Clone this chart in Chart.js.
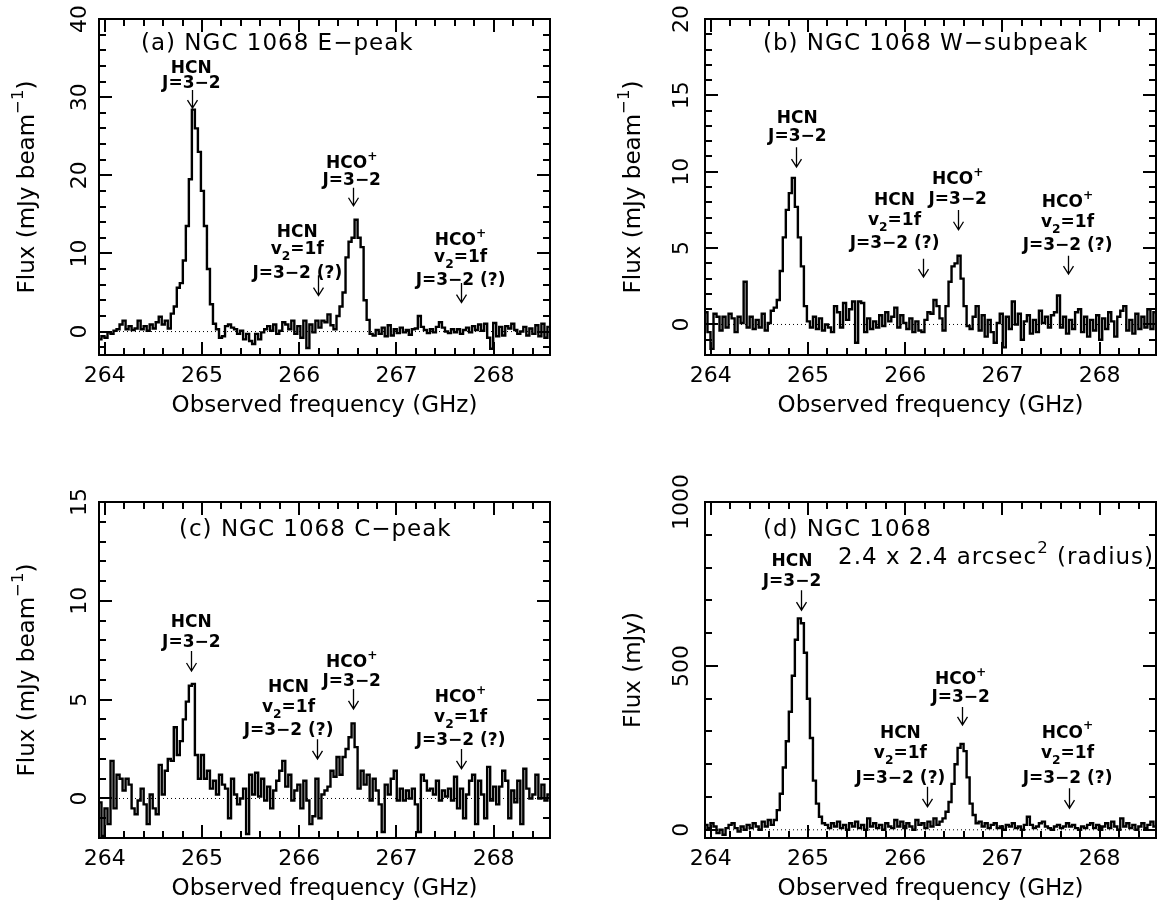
<!DOCTYPE html>
<html>
<head>
<meta charset="utf-8">
<script src="https://cdn.jsdelivr.net/npm/chart.js@4.4.1/dist/chart.umd.min.js"></script>
<style>
  body { margin: 0; background: #fff; }
  #fig { position: relative; width: 1158px; height: 909px; }
  #fig canvas { position: absolute; }
</style>
</head>
<body>
<div id="fig">
  <canvas id="pa" width="579" height="454" style="left:0;top:0"></canvas>
  <canvas id="pb" width="579" height="454" style="left:579px;top:0"></canvas>
  <canvas id="pc" width="579" height="454" style="left:0;top:455px"></canvas>
  <canvas id="pd" width="579" height="454" style="left:579px;top:455px"></canvas>
</div>
<script>
// spectral channels: first channel centre and channel width (GHz)
const FREQ_START = 263.95;
const CHAN_WIDTH = 0.031;
const X_MIN = 263.94, X_MAX = 268.58;
const X_TICKS = [264, 265, 266, 267, 268];

// (a) E-peak, mJy/beam
const FLUX_A = [
  -1.0, -0.6, -0.8, -0.1, -0.3, 0.1, 0.3, 0.9, 1.4, 0.3,
  0.7, 0.2, 0.4, 1.4, 0.3, 0.7, 0.1, 0.9, 0.4, 1.2,
  1.9, 0.9, 1.4, 0.4, 2.3, 3.2, 5.6, 6.2, 9.1, 13.5,
  19.5, 28.4, 26.0, 23.0, 18.0, 13.5, 8.0, 3.5, 1.0, 0.3,
  -0.8, -0.6, 0.7, 0.9, 0.5, 0.3, -0.3, 0.1, -1.0, -0.3,
  -1.2, -1.6, -0.3, -1.0, -0.1, 0.3, 0.7, 0.1, 0.9, -0.3,
  0.1, 1.2, 0.9, 0.3, 1.4, -0.3, 0.7, -0.8, 1.4, -2.1,
  0.9, -0.1, 1.4, 0.5, 1.4, 1.2, 2.2, 0.8, 0.3, 2.0,
  3.2, 5.0, 9.5, 11.5, 12.0, 14.3, 12.0, 10.8, 4.0, 1.5,
  -0.3, -0.5, 0.2, -0.3, 0.5, -0.6, 0.8, -0.5, 0.3, -0.2,
  0.5, -0.1, 0.2, -0.4, 0.3, 0.4, 2.0, 0.6, 0.2, -0.2,
  0.3, -0.1, 0.6, 1.2, 0.5, 0.0, -0.2, 0.3, -0.1, 0.3,
  -0.3, 0.2, 0.5, -0.1, 0.7, 0.2, 0.9, 0.1, 1.0, -0.8,
  -2.2, 1.1, -0.6, 0.6, -0.5, 0.7, 0.4, 1.0, 0.2, -0.3,
  0.0, 0.6, -0.5, 0.4, -0.3, 0.8, -0.6, 1.0, -0.8, 0.6
];

// (b) W-subpeak, mJy/beam
const FLUX_B = [
  0.8, -0.5, -1.6, 0.7, 0.5, -0.4, 0.5, -0.2, 0.7, 0.4,
  -0.5, 0.5, 0.1, 2.8, -0.2, 0.5, -0.3, 0.3, -0.2, 0.7,
  -0.4, 0.1, 0.9, 1.1, 1.6, 3.5, 5.7, 7.5, 8.6, 9.6,
  7.7, 5.7, 3.8, 1.2, 0.2, -0.2, 0.5, -0.3, 0.4, -0.4,
  0.0, -0.2, -0.5, 1.2, 0.8, -0.2, 1.4, 0.3, 1.0, 1.5,
  -1.2, 1.5, 1.4, -0.5, 0.4, -0.3, 0.2, -0.2, 0.6, -0.1,
  0.8, 0.2, 0.5, 1.1, -0.2, 0.6, 0.1, -0.3, 0.4, -0.5,
  0.2, -0.4, -0.5, 0.3, 0.8, 0.7, 1.6, 1.2, 0.4, -0.4,
  1.2, 2.8, 3.8, 4.0, 4.5, 3.0, 1.2, -0.1, -0.3, 0.5,
  1.2, -0.4, 0.6, -0.8, 0.3, -0.5, -1.2, 0.1, 0.7, -1.5,
  0.5, -0.3, 1.5, 0.0, 0.7, -1.0, 0.2, 0.6, -0.6, 0.3,
  -0.5, 0.9, 0.1, 0.5, -0.2, 0.6, 0.8, 1.9, -0.2, 0.5,
  -0.6, 0.3, -0.3, 0.8, 1.0, -0.5, 0.5, -0.8, 0.3, -0.4,
  0.6, -1.0, 0.4, -0.3, 0.8, 0.2, -0.8, 0.5, 0.9, 1.2,
  -0.4, 0.3, -0.6, 0.7, -0.3, 0.5, -0.2, 1.0, -0.3, 0.8
];

// (c) C-peak, mJy/beam
const FLUX_C = [
  -0.2, -1.9, -0.5, -1.3, 1.9, -0.5, 1.2, 1.0, 0.4, 1.0,
  0.7, -0.5, -0.8, -0.1, 0.5, -0.3, -1.3, 0.2, -0.5, -0.8,
  1.7, 0.2, 1.4, 2.0, 1.9, 3.6, 2.2, 2.9, 4.0, 4.9,
  5.7, 5.8, 2.2, 1.0, 2.2, 1.0, 1.4, 0.5, 0.9, 0.2,
  1.2, 0.7, 0.5, -1.0, 1.0, 0.2, -0.3, 0.0, 0.5, -1.8,
  1.2, 0.2, 1.3, 0.1, 1.0, -0.1, 0.6, -0.5, 0.4, 0.9,
  1.4, 1.9, 0.6, 1.2, -0.1, 0.4, 0.7, -0.5, 0.9, -0.1,
  -1.3, -0.9, 1.0, -1.0, 0.2, 0.4, 0.6, 1.4, 1.1, 2.1,
  1.2, 2.1, 2.5, 3.1, 3.8, 2.6, 0.5, 1.4, 0.7, 1.2,
  -0.1, 1.0, 0.4, -0.3, -1.7, 0.7, 0.2, 1.0, 1.4, -0.1,
  0.5, -0.1, 0.4, 0.0, 0.5, -0.3, -1.7, 1.2, 0.9, 0.4,
  0.5, 0.2, 0.9, -0.1, 0.4, 0.1, 0.5, -0.1, 1.1, -0.5,
  0.5, -1.0, 0.2, 0.9, 1.2, -1.3, 0.9, 0.2, -1.0, 1.6,
  -0.1, 0.6, -0.3, 0.6, 1.4, 0.9, -1.0, 0.4, -0.2, 0.9,
  -1.3, 1.5, 0.5, 0.0, 0.2, 1.2, 0.0, 0.7, -0.1, 0.2
];

// (d) 2.4" aperture, mJy
const FLUX_D = [
  15, 5, 20, 10, -10, 0, -15, 5, 15, 20,
  5, -5, 10, 0, 15, 5, 20, 10, 0, 25,
  10, 30, 15, 30, 60, 110, 190, 270, 360, 470,
  580, 645, 630, 540, 400, 280, 150, 80, 40, 20,
  15, 5, 20, 10, 25, 5, 15, 0, 20, 10,
  25, 5, 15, 0, 35, 10, 20, 5, 15, 0,
  20, 10, 5, 30, 10, 25, 5, 20, 10, 0,
  30, 15, 20, 5, 25, 10, 35, 15, 25, 35,
  55, 85, 140, 200, 250, 262, 240, 160, 80, 45,
  20, 25, 10, 20, 5, 15, 20, 5, 10, 0,
  15, 10, 20, 5, 10, 0, 15, 40, 15, 5,
  10, 20, 25, 10, 5, 0, 10, 15, 5, 10,
  20, 10, 15, 5, 0, 10, 5, 15, 20, 5,
  15, 0, 10, 20, 5, 25, 10, 0, 35, 10,
  20, 5, 15, 0, 10, 20, 5, 15, 25, 10
];

const Y_TICKS_A = [0, 10, 20, 30, 40];
const Y_TICKS_B = [0, 5, 10, 15, 20];
const Y_TICKS_C = [0, 5, 10, 15];
const Y_TICKS_D = [0, 500, 1000];

// line identifications: text centre (x, first line y), line gaps in px, arrow [x, from, to]
const LINES_A = [
  { text: ['HCN', 'J=3−2'], x: 264.89, y: 33.7, gaps: [15], arrow: [264.90, 30.9, 28.6] },
  { text: ['HCO^{+}', 'J=3−2'], x: 266.54, y: 21.5, gaps: [17], arrow: [266.55, 18.4, 16.1] },
  { text: ['HCN', 'v_{2}=1f', 'J=3−2 (?)'], x: 265.98, y: 12.7, gaps: [17, 24], arrow: [266.19, 7.2, 4.6] },
  { text: ['HCO^{+}', 'v_{2}=1f', 'J=3−2 (?)'], x: 267.66, y: 11.6, gaps: [17, 23], arrow: [267.66, 6.2, 3.7] }
];
const LINES_B = [
  { text: ['HCN', 'J=3−2'], x: 264.89, y: 13.5, gaps: [18], arrow: [264.88, 11.6, 10.3] },
  { text: ['HCO^{+}', 'J=3−2'], x: 266.54, y: 9.46, gaps: [20], arrow: [266.54, 7.5, 6.2] },
  { text: ['HCN', 'v_{2}=1f', 'J=3−2 (?)'], x: 265.89, y: 8.1, gaps: [20, 23], arrow: [266.18, 4.3, 3.1] },
  { text: ['HCO^{+}', 'v_{2}=1f', 'J=3−2 (?)'], x: 267.67, y: 7.96, gaps: [20, 23], arrow: [267.67, 4.5, 3.3] }
];
const LINES_C = [
  { text: ['HCN', 'J=3−2'], x: 264.89, y: 8.9, gaps: [20], arrow: [264.89, 7.46, 6.45] },
  { text: ['HCO^{+}', 'J=3−2'], x: 266.54, y: 6.87, gaps: [19], arrow: [266.55, 5.54, 4.53] },
  { text: ['HCN', 'v_{2}=1f', 'J=3−2 (?)'], x: 265.89, y: 5.6, gaps: [20, 23], arrow: [266.18, 3.0, 2.0] },
  { text: ['HCO^{+}', 'v_{2}=1f', 'J=3−2 (?)'], x: 267.66, y: 5.1, gaps: [20, 23], arrow: [267.66, 2.5, 1.5] }
];
const LINES_D = [
  { text: ['HCN', 'J=3−2'], x: 264.835, y: 818, gaps: [20], arrow: [264.93, 731, 670] },
  { text: ['HCO^{+}', 'J=3−2'], x: 266.57, y: 457, gaps: [18], arrow: [266.58, 375, 320] },
  { text: ['HCN', 'v_{2}=1f', 'J=3−2 (?)'], x: 265.95, y: 294, gaps: [20, 25], arrow: [266.22, 131, 70] },
  { text: ['HCO^{+}', 'v_{2}=1f', 'J=3−2 (?)'], x: 267.67, y: 294, gaps: [20, 25], arrow: [267.69, 127, 66] }
];

const FONT = '"DejaVu Sans", sans-serif';
const X_MINOR = 0.2, X_MAJOR = 1;

// text with _{sub} and ^{sup} pieces, centred vertically on y
function drawRich(ctx, str, x, y, size, opt = {}) {
  const weight = opt.weight || 'normal';
  const align = opt.align || 'center';
  const parts = [];
  const re = /([_^])\{([^}]*)\}/g;
  let last = 0, m;
  while ((m = re.exec(str))) {
    if (m.index > last) parts.push({ t: str.slice(last, m.index), s: 1, dy: 0 });
    parts.push({ t: m[2], s: 0.72, dy: m[1] === '^' ? -0.42 : 0.42 });
    last = re.lastIndex;
  }
  if (last < str.length) parts.push({ t: str.slice(last), s: 1, dy: 0 });
  ctx.letterSpacing = (opt.spacing || 0) + 'px';
  let w = 0;
  for (const p of parts) {
    ctx.font = `${weight} ${size * p.s}px ${FONT}`;
    p.w = ctx.measureText(p.t).width;
    w += p.w;
  }
  let px = align === 'center' ? x - w / 2 : x;
  ctx.textAlign = 'left';
  ctx.textBaseline = 'middle';
  for (const p of parts) {
    ctx.font = `${weight} ${size * p.s}px ${FONT}`;
    ctx.fillText(p.t, px, y + p.dy * size);
    px += p.w;
  }
  ctx.letterSpacing = '0px';
}

function isMajor(v, step) {
  return Math.abs(v / step - Math.round(v / step)) < 1e-6;
}

// frame with inward ticks, labels, titles and line markers
const specAxes = {
  id: 'specAxes',
  afterDraw(chart, args, o) {
    const { ctx, chartArea: a, scales: { x, y } } = chart;
    ctx.save();
    ctx.strokeStyle = '#000';
    ctx.fillStyle = '#000';
    ctx.lineWidth = 2;
    ctx.beginPath();
    for (let k = Math.ceil(x.min / X_MINOR); k * X_MINOR <= x.max; k++) {
      const v = k * X_MINOR;
      const len = isMajor(v, X_MAJOR) ? 13 : 7;
      const px = Math.round(x.getPixelForValue(v));
      ctx.moveTo(px, a.bottom); ctx.lineTo(px, a.bottom - len);
      ctx.moveTo(px, a.top); ctx.lineTo(px, a.top + len);
    }
    for (let k = Math.ceil(y.min / o.yMinor); k * o.yMinor <= y.max; k++) {
      const v = k * o.yMinor;
      const len = isMajor(v, o.yMajor) ? 13 : 7;
      const py = Math.round(y.getPixelForValue(v));
      ctx.moveTo(a.left, py); ctx.lineTo(a.left + len, py);
      ctx.moveTo(a.right, py); ctx.lineTo(a.right - len, py);
    }
    ctx.stroke();
    ctx.strokeRect(a.left, a.top, a.right - a.left, a.bottom - a.top);

    X_TICKS.forEach(v => drawRich(ctx, String(v), x.getPixelForValue(v), a.bottom + 21, 22));
    o.yTicks.forEach(v => {
      ctx.save();
      ctx.translate(a.left + o.yLabelDx, y.getPixelForValue(v));
      ctx.rotate(-Math.PI / 2);
      drawRich(ctx, String(v), 0, 0, 22);
      ctx.restore();
    });
    drawRich(ctx, 'Observed frequency (GHz)', (a.left + a.right) / 2, a.bottom + 51, 23);
    ctx.save();
    ctx.translate(a.left - 71, (a.top + a.bottom) / 2);
    ctx.rotate(-Math.PI / 2);
    drawRich(ctx, o.yTitle, 0, 0, 23);
    ctx.restore();

    o.titles.forEach(t => drawRich(ctx, t.text, a.left + t.dx, a.top + t.dy, 23, { align: 'left', spacing: 1 }));

    o.lines.forEach(L => {
      const cx = x.getPixelForValue(L.x);
      let ty = y.getPixelForValue(L.y);
      L.text.forEach((s, i) => {
        if (i > 0) ty += L.gaps[i - 1];
        drawRich(ctx, s, cx, ty, 17, { weight: 'bold' });
      });
      const ax = Math.round(x.getPixelForValue(L.arrow[0])) + 0.5;
      const y1 = y.getPixelForValue(L.arrow[1]);
      const y2 = y.getPixelForValue(L.arrow[2]);
      ctx.lineWidth = 1.3;
      ctx.beginPath();
      ctx.moveTo(ax, y1); ctx.lineTo(ax, y2);
      ctx.moveTo(ax - 5, y2 - 8); ctx.lineTo(ax, y2); ctx.lineTo(ax + 5, y2 - 8);
      ctx.stroke();
    });
    ctx.restore();
  }
};

const FREQ = FLUX_A.map((_, i) => +(FREQ_START + i * CHAN_WIDTH).toFixed(4));

const PANELS = [
  { id: 'pa', flux: FLUX_A, yMin: -3, yMax: 40, yTicks: Y_TICKS_A, yMinor: 2, yMajor: 10,
    yTitle: 'Flux (mJy beam^{−1})', lines: LINES_A, yLabelDx: -19,
    titles: [{ text: '(a) NGC 1068 E−peak', dx: 42, dy: 25 }],
    pad: { left: 99, top: 19, right: 29, bottom: 99 } },
  { id: 'pb', flux: FLUX_B, yMin: -2, yMax: 20, yTicks: Y_TICKS_B, yMinor: 1, yMajor: 5,
    yTitle: 'Flux (mJy beam^{−1})', lines: LINES_B, yLabelDx: -23,
    titles: [{ text: '(b) NGC 1068 W−subpeak', dx: 58, dy: 25 }],
    pad: { left: 126, top: 19, right: 2, bottom: 99 } },
  { id: 'pc', flux: FLUX_C, yMin: -2, yMax: 15, yTicks: Y_TICKS_C, yMinor: 1, yMajor: 5,
    yTitle: 'Flux (mJy beam^{−1})', lines: LINES_C, yLabelDx: -19,
    titles: [{ text: '(c) NGC 1068 C−peak', dx: 80, dy: 28 }],
    pad: { left: 99, top: 47, right: 29, bottom: 71 } },
  { id: 'pd', flux: FLUX_D, yMin: -25, yMax: 1000, yTicks: Y_TICKS_D, yMinor: 100, yMajor: 500,
    yTitle: 'Flux (mJy)', lines: LINES_D, yLabelDx: -23,
    titles: [{ text: '(d) NGC 1068', dx: 58, dy: 28 },
             { text: '2.4 x 2.4 arcsec^{2} (radius)', dx: 133, dy: 56 }],
    pad: { left: 126, top: 47, right: 2, bottom: 71 } }
];

PANELS.forEach(p => {
  new Chart(document.getElementById(p.id), {
    type: 'line',
    data: {
      datasets: [
        {
          data: FREQ.map((f, i) => ({ x: f, y: p.flux[i] })),
          stepped: 'middle',
          borderColor: '#000',
          borderWidth: 2.4,
          borderJoinStyle: 'miter',
          pointRadius: 0,
          fill: false
        },
        {
          // zero level
          data: [{ x: X_MIN, y: 0 }, { x: X_MAX, y: 0 }],
          borderColor: '#000',
          borderWidth: 1,
          borderDash: [1, 3],
          pointRadius: 0,
          fill: false
        }
      ]
    },
    options: {
      responsive: false,
      animation: false,
      events: [],
      layout: { padding: p.pad },
      scales: {
        x: { type: 'linear', min: X_MIN, max: X_MAX, display: false },
        y: { type: 'linear', min: p.yMin, max: p.yMax, display: false }
      },
      plugins: {
        legend: { display: false },
        tooltip: { enabled: false },
        specAxes: p
      }
    },
    plugins: [specAxes]
  });
});
</script>
</body>
</html>
